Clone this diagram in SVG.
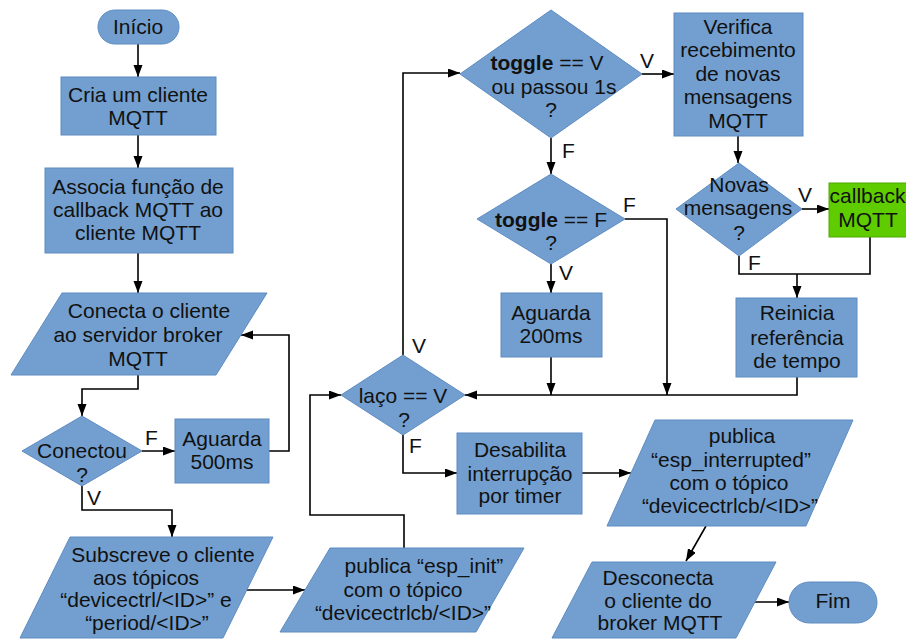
<svg xmlns="http://www.w3.org/2000/svg" width="906" height="639" viewBox="0 0 906 639">
  <defs>
    <marker id="arrow" markerUnits="userSpaceOnUse" markerWidth="13" markerHeight="10" refX="12" refY="4.5" orient="auto">
      <path d="M0,0 L12,4.5 L0,9 z" fill="#000"/>
    </marker>
    <style>
      .shape { fill: #729fcf; stroke: #5f8cc2; stroke-width: 1; }
      .green { fill: #5fcc00; stroke: #4ea800; stroke-width: 1; }
      .t { font-family: "Liberation Sans", Arial, sans-serif; font-size: 21px; fill: #111; text-anchor: middle; }
      .lbl { font-family: "Liberation Sans", Arial, sans-serif; font-size: 21px; fill: #111; }
      .b { font-weight: bold; }
      .wire { fill: none; stroke: #000; stroke-width: 1.6; }
      .wire.a { marker-end: url(#arrow); }
    </style>
  </defs>
  <rect width="906" height="639" fill="#fff"/>

  <!-- connectors -->
  <g id="connectors">
    <path class="wire a" d="M138,44 V77"/>
    <path class="wire a" d="M138,135 V168"/>
    <path class="wire a" d="M138,253 V293"/>
    <path class="wire a" d="M138,375 V389 H82 V416"/>
    <path class="wire a" d="M142,451 H175"/>
    <path class="wire a" d="M269,451 H289 V335 H241"/>
    <path class="wire a" d="M82,486 V510 H172 V537"/>
    <path class="wire a" d="M247,590 H305"/>
    <path class="wire a" d="M404,548 V515 H310 V395 H341"/>
    <path class="wire a" d="M403,355 V73 H460"/>
    <path class="wire a" d="M642,74 H674"/>
    <path class="wire a" d="M738,136 V163"/>
    <path class="wire a" d="M551,138 V174"/>
    <path class="wire a" d="M551,264 V293"/>
    <path class="wire a" d="M802,209 H829"/>
    <path class="wire" d="M739,256 V274 H870 V237"/>
    <path class="wire a" d="M797,274 V298"/>
    <path class="wire a" d="M797,377 V395 H465"/>
    <path class="wire a" d="M625,219 H667 V395"/>
    <path class="wire a" d="M551,357 V395"/>
    <path class="wire a" d="M403,435 V473 H457"/>
    <path class="wire a" d="M582,473 H631"/>
    <path class="wire a" d="M706,526 L686,561"/>
    <path class="wire a" d="M753,602 H789"/>

    <!-- branch labels -->
    <text class="lbl" x="145" y="445">F</text>
    <text class="lbl" x="87" y="505">V</text>
    <text class="lbl" x="412" y="353">V</text>
    <text class="lbl" x="409" y="453">F</text>
    <text class="lbl" x="640" y="68">V</text>
    <text class="lbl" x="562" y="158">F</text>
    <text class="lbl" x="623" y="212">F</text>
    <text class="lbl" x="559" y="280">V</text>
    <text class="lbl" x="798" y="202">V</text>
    <text class="lbl" x="748" y="270">F</text>
  </g>

  <!-- nodes -->
  <g id="inicio">
    <rect class="shape" x="98" y="10" width="81" height="34" rx="17"/>
    <text class="t" x="138" y="34">Início</text>
  </g>

  <g id="cria-cliente">
    <rect class="shape" x="61" y="77" width="155" height="58"/>
    <text class="t" x="138" y="102">Cria um cliente</text>
    <text class="t" x="138" y="125">MQTT</text>
  </g>

  <g id="associa-callback">
    <rect class="shape" x="45" y="168" width="188" height="85"/>
    <text class="t" x="138" y="194">Associa função de</text>
    <text class="t" x="138" y="217">callback MQTT ao</text>
    <text class="t" x="138" y="240">cliente MQTT</text>
  </g>

  <g id="conecta">
    <polygon class="shape" points="62,293 267,293 216,375 11,375"/>
    <text class="t" x="149" y="318">Conecta o cliente</text>
    <text class="t" x="138" y="342">ao servidor broker</text>
    <text class="t" x="138" y="366">MQTT</text>
  </g>

  <g id="conectou">
    <polygon class="shape" points="82,416 142,451 82,486 22,451"/>
    <text class="t" x="82" y="458">Conectou</text>
    <text class="t" x="82" y="482">?</text>
  </g>

  <g id="aguarda-500">
    <rect class="shape" x="175" y="419" width="94" height="64"/>
    <text class="t" x="222" y="446">Aguarda</text>
    <text class="t" x="222" y="469">500ms</text>
  </g>

  <g id="subscreve">
    <polygon class="shape" points="70,537 273,537 223,638 20,638"/>
    <text class="t" x="163" y="562">Subscreve o cliente</text>
    <text class="t" x="146" y="585">aos tópicos</text>
    <text class="t" x="146" y="607">“devicectrl/&lt;ID&gt;” e</text>
    <text class="t" x="147" y="630">“period/&lt;ID&gt;”</text>
  </g>

  <g id="publica-init">
    <polygon class="shape" points="330,548 524,548 476,632 280,632"/>
    <text class="t" x="424" y="573">publica “esp_init”</text>
    <text class="t" x="403" y="597">com o tópico</text>
    <text class="t" x="403" y="620">“devicectrlcb/&lt;ID&gt;”</text>
  </g>

  <g id="laco">
    <polygon class="shape" points="403,355 465,395 403,435 341,395"/>
    <text class="t" x="403" y="403">laço == V</text>
    <text class="t" x="404" y="427">?</text>
  </g>

  <g id="toggle-v">
    <polygon class="shape" points="551,10 642,74 551,138 460,74"/>
    <text class="t" x="547" y="70"><tspan class="b">toggle</tspan> == V</text>
    <text class="t" x="554" y="94">ou passou 1s</text>
    <text class="t" x="551" y="117">?</text>
  </g>

  <g id="toggle-f">
    <polygon class="shape" points="551,174 625,219 551,264 477,219"/>
    <text class="t" x="551" y="227"><tspan class="b">toggle</tspan> == F</text>
    <text class="t" x="551" y="250">?</text>
  </g>

  <g id="aguarda-200">
    <rect class="shape" x="501" y="293" width="101" height="64"/>
    <text class="t" x="551" y="320">Aguarda</text>
    <text class="t" x="551" y="343">200ms</text>
  </g>

  <g id="verifica">
    <rect class="shape" x="674" y="13" width="129" height="123"/>
    <text class="t" x="738" y="34">Verifica</text>
    <text class="t" x="738" y="57">recebimento</text>
    <text class="t" x="738" y="81">de novas</text>
    <text class="t" x="738" y="104">mensagens</text>
    <text class="t" x="738" y="128">MQTT</text>
  </g>

  <g id="novas-mensagens">
    <polygon class="shape" points="739,163 802,209 739,256 676,209"/>
    <text class="t" x="739" y="192">Novas</text>
    <text class="t" x="738" y="215">mensagens</text>
    <text class="t" x="739" y="240">?</text>
  </g>

  <g id="callback">
    <rect class="green" x="829" y="183" width="82" height="54"/>
    <text class="t" x="867.5" y="203" font-size="20">callback</text>
    <text class="t" x="868" y="227">MQTT</text>
  </g>

  <g id="reinicia">
    <rect class="shape" x="736" y="298" width="121" height="79"/>
    <text class="t" x="797" y="320">Reinicia</text>
    <text class="t" x="797" y="345">referência</text>
    <text class="t" x="797" y="368">de tempo</text>
  </g>

  <g id="desabilita">
    <rect class="shape" x="457" y="433" width="125" height="81"/>
    <text class="t" x="520" y="457">Desabilita</text>
    <text class="t" x="520" y="481">interrupção</text>
    <text class="t" x="520" y="503">por timer</text>
  </g>

  <g id="publica-interrupted">
    <polygon class="shape" points="655,420 853,420 806,526 607,526"/>
    <text class="t" x="742" y="443">publica</text>
    <text class="t" x="731" y="467">“esp_interrupted”</text>
    <text class="t" x="729" y="490">com o tópico</text>
    <text class="t" x="730" y="513">“devicectrlcb/&lt;ID&gt;”</text>
  </g>

  <g id="desconecta">
    <polygon class="shape" points="592,562 776,562 736,638 552,638"/>
    <text class="t" x="658" y="585">Desconecta</text>
    <text class="t" x="658" y="608">o cliente do</text>
    <text class="t" x="660" y="630">broker MQTT</text>
  </g>

  <g id="fim">
    <rect class="shape" x="789" y="582" width="88" height="41" rx="20.5"/>
    <text class="t" x="833" y="608">Fim</text>
  </g>
</svg>
